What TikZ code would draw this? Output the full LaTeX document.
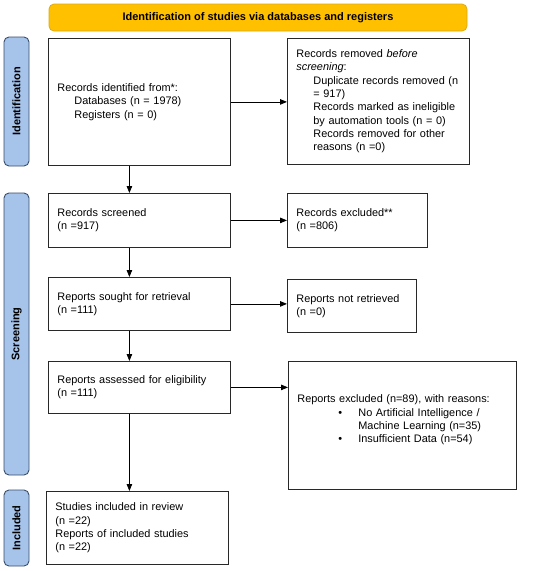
\documentclass[tikz,border=0pt]{standalone}
\usepackage{fontspec}
\setmainfont{Liberation Sans}
\usetikzlibrary{arrows.meta}
\definecolor{hdrfill}{RGB}{255,192,0}
\definecolor{hdrdraw}{RGB}{222,170,20}
\definecolor{sidefill}{RGB}{166,195,234}
\definecolor{sidedraw}{RGB}{58,78,108}
\definecolor{boxdraw}{RGB}{40,40,40}
\tikzset{
  box/.style={draw=boxdraw, line width=0.8pt, align=left, inner xsep=9pt, inner ysep=2pt,
    anchor=north west, font=\fontsize{10.9}{13.3}\selectfont},
  sidebar/.style={draw=sidedraw, line width=0.9pt, fill=sidefill, rounded corners=5pt,
    rotate=90, inner sep=0pt, font=\bfseries\fontsize{11}{12}\selectfont},
  header/.style={draw=hdrdraw, line width=0.8pt, fill=hdrfill, rounded corners=5pt,
    inner sep=0pt, font=\bfseries\fontsize{11}{12}\selectfont},
  flow/.style={line width=0.8pt, -{Triangle[length=7pt,width=5.5pt]}},
}
\begin{document}
\begin{tikzpicture}[x=1pt,y=-1pt]
\useasboundingbox (0,0) rectangle (550,571);
\fill[white] (0,0) rectangle (550,571);

\node[header, minimum width=418pt, minimum height=27pt] (hdr) at (258,17.5)
  {Identification of studies via databases and registers};

\node[sidebar, minimum width=129pt, minimum height=25pt] (sid) at (16.5,101.5) {Identification};
\node[sidebar, minimum width=282pt, minimum height=25pt] (sscr) at (16.5,334) {Screening};
\node[sidebar, minimum width=76pt, minimum height=25pt] (sinc) at (16.5,528) {Included};

\node[box, minimum width=182pt, text width=164pt, minimum height=127pt] (ident) at (48,38)
  {Records identified from*:\\
   \hspace*{17pt}Databases (n = 1978)\\
   \hspace*{17pt}Registers (n = 0)};

\node[box, minimum width=182pt, text width=164pt, minimum height=126pt] (removed) at (287,38)
  {Records removed \textit{before}\\
   \textit{screening}:\\
   \hspace*{17pt}Duplicate records removed (n\\
   \hspace*{17pt}= 917)\\
   \hspace*{17pt}Records marked as ineligible\\
   \hspace*{17pt}by automation tools (n = 0)\\
   \hspace*{17pt}Records removed for other\\
   \hspace*{17pt}reasons (n =0)};

\node[box, minimum width=182pt, text width=164pt, minimum height=54pt] (screened) at (48,193)
  {Records screened\\(n =917)};

\node[box, minimum width=140pt, text width=122pt, minimum height=54pt] (excl) at (287,193)
  {Records excluded**\\(n =806)};

\node[box, minimum width=182pt, text width=164pt, minimum height=53pt] (sought) at (48,277)
  {Reports sought for retrieval\\(n =111)};

\node[box, minimum width=129pt, text width=111pt, minimum height=53pt] (notret) at (287,279)
  {Reports not retrieved\\(n =0)};

\node[box, minimum width=182pt, text width=164pt, minimum height=52pt] (assessed) at (48,361)
  {Reports assessed for eligibility\\(n =111)};

\node[box, minimum width=228pt, text width=210pt, minimum height=128pt] (repexcl) at (288,361)
  {Reports excluded (n=89), with reasons:\\
   \hspace*{41pt}\makebox[20pt][l]{\textbullet}No Artificial Intelligence /\\
   \hspace*{61pt}Machine Learning (n=35)\\
   \hspace*{41pt}\makebox[20pt][l]{\textbullet}Insufficient Data (n=54)\\
   \mbox{}};

\node[box, minimum width=182pt, text width=164pt, minimum height=73pt] (incl) at (46,491)
  {Studies included in review\\(n =22)\\Reports of included studies\\(n =22)};

\draw[flow] (ident.east) -- (ident.east -| removed.west);
\draw[flow] (screened.east) -- (screened.east -| excl.west);
\draw[flow] (sought.east) -- (sought.east -| notret.west);
\draw[flow] (assessed.east) -- (assessed.east -| repexcl.west);

\draw[flow] ([xshift=-10pt]ident.south) -- ([xshift=-10pt]ident.south |- screened.north);
\draw[flow] ([xshift=-10pt]screened.south) -- ([xshift=-10pt]screened.south |- sought.north);
\draw[flow] ([xshift=-10pt]sought.south) -- ([xshift=-10pt]sought.south |- assessed.north);
\draw[flow] ([xshift=-10pt]assessed.south) -- ([xshift=-10pt]assessed.south |- incl.north);
\end{tikzpicture}
\end{document}
